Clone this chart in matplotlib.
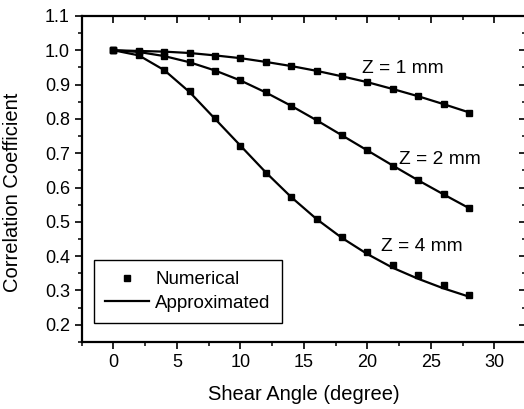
import matplotlib
matplotlib.use("Agg")
import matplotlib.pyplot as plt
from matplotlib.ticker import MultipleLocator
from matplotlib.lines import Line2D

plt.rcParams['font.family'] = ['Liberation Sans', 'DejaVu Sans']

shear_angle = [0, 2, 4, 6, 8, 10, 12, 14, 16, 18, 20, 22, 24, 26, 28]

num_z1 = [1.000, 0.998, 0.996, 0.992, 0.984, 0.977, 0.966, 0.954, 0.941, 0.924, 0.908, 0.886, 0.866, 0.844, 0.818]
num_z2 = [1.000, 0.995, 0.984, 0.967, 0.941, 0.913, 0.877, 0.838, 0.796, 0.752, 0.708, 0.664, 0.622, 0.581, 0.540]
num_z4 = [1.000, 0.986, 0.943, 0.880, 0.802, 0.721, 0.641, 0.572, 0.509, 0.455, 0.412, 0.375, 0.344, 0.315, 0.288]

app_z1 = [1.000, 0.998, 0.996, 0.992, 0.985, 0.977, 0.966, 0.954, 0.940, 0.924, 0.907, 0.887, 0.866, 0.843, 0.819]
app_z2 = [1.000, 0.995, 0.983, 0.965, 0.941, 0.912, 0.877, 0.838, 0.796, 0.752, 0.708, 0.664, 0.621, 0.580, 0.540]
app_z4 = [1.000, 0.985, 0.942, 0.878, 0.800, 0.722, 0.644, 0.572, 0.508, 0.453, 0.406, 0.366, 0.334, 0.306, 0.282]

labels = ["Z = 1 mm", "Z = 2 mm", "Z = 4 mm"]
label_pos = [(22.8, 0.948), (25.7, 0.683), (24.3, 0.427)]

y_ticks = [0.2, 0.3, 0.4, 0.5, 0.6, 0.7, 0.8, 0.9, 1.0, 1.1]
y_ticklabels = ['0.2', '0.3', '0.4', '0.5', '0.6', '0.7', '0.8', '0.9', '1.0', '1.1']

fig = plt.figure(figsize=(5.24, 4.09), dpi=100)
ax = fig.add_axes([0.156, 0.164, 0.848, 0.797])

lw = 1.6
for app in (app_z1, app_z2, app_z4):
    ax.plot(shear_angle, app, color='black', lw=lw, zorder=2)
for num in (num_z1, num_z2, num_z4):
    ax.plot(shear_angle, num, ls='none', marker='s', ms=5, color='black', zorder=3)

for lab, (x, y) in zip(labels, label_pos):
    ax.text(x, y, lab, fontsize=13.8, ha='center', va='center')

ax.set_xlim(-2.5, 32.5)
ax.set_ylim(0.15, 1.1)
ax.xaxis.set_major_locator(MultipleLocator(5))
ax.xaxis.set_minor_locator(MultipleLocator(2.5))
ax.set_yticks(y_ticks)
ax.set_yticklabels(y_ticklabels)
ax.yaxis.set_minor_locator(MultipleLocator(0.05))

ax.tick_params(axis='both', which='major', direction='out', length=5, width=1.2, labelsize=13)
ax.tick_params(axis='both', which='minor', direction='out', length=3, width=1.1)
ax.tick_params(axis='x', which='both', top=True)
ax.tick_params(axis='y', which='both', right=True)
for t in ax.xaxis.get_major_ticks() + ax.xaxis.get_minor_ticks():
    t.tick2line.set_marker(3)  # inward on top
for t in ax.yaxis.get_major_ticks() + ax.yaxis.get_minor_ticks():
    t.tick2line.set_marker(0)  # inward on right

for s in ax.spines.values():
    s.set_linewidth(1.6)

ax.set_xlabel('Shear Angle (degree)', fontsize=14.5, labelpad=10)
ax.set_ylabel('Correlation Coefficient', fontsize=14.5, labelpad=6)
ax.yaxis.set_label_coords(-0.135, 0.46)

handles = [Line2D([], [], ls='none', marker='s', ms=5, color='black'),
           Line2D([], [], color='black', lw=lw)]
leg = ax.legend(handles, ['Numerical', 'Approximated'], loc='lower left',
                bbox_to_anchor=(0.028, 0.058), borderaxespad=0, fontsize=13.5,
                fancybox=False, edgecolor='black', framealpha=1,
                handlelength=2.3, handletextpad=0.35, borderpad=0.6, labelspacing=0.35)
leg.get_frame().set_linewidth(1.0)

fig.savefig('out.png', dpi=100)
